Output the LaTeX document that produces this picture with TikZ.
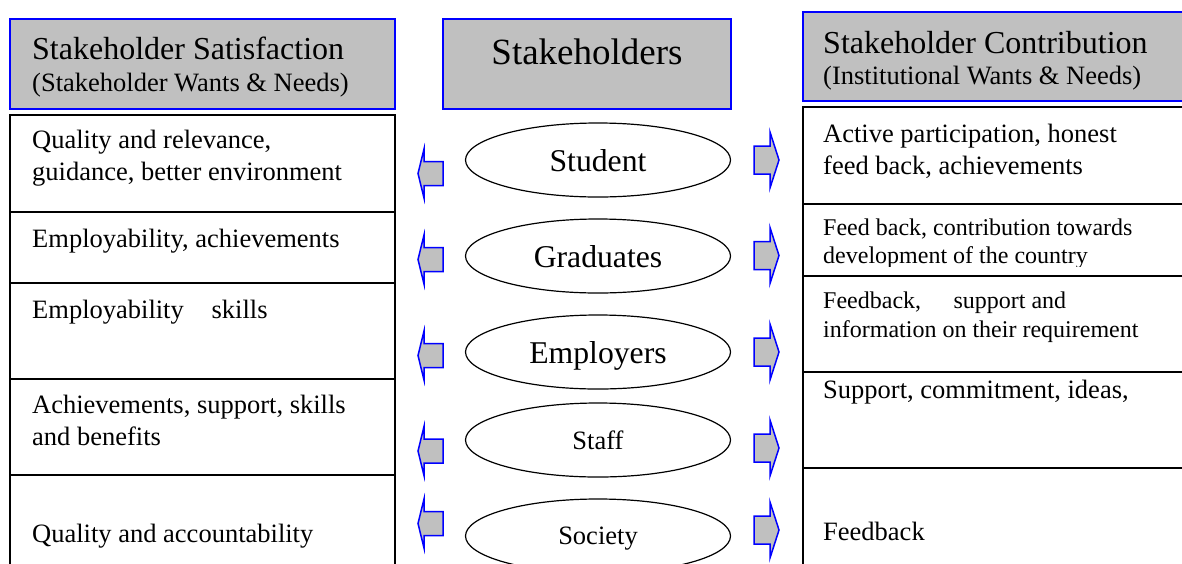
\documentclass[tikz,border=0pt]{standalone}
\usepackage{fontspec}
\setmainfont{Liberation Serif}
\usetikzlibrary{shapes.geometric}
\definecolor{hdgray}{HTML}{C0C0C0}
\definecolor{hdblue}{HTML}{0000FF}
\newcommand\LArr[1]{\draw[arrshape] (418,#1) -- (424,#1-24.5) -- (424,#1-12) -- (443,#1-12) -- (443,#1+12) -- (424,#1+12) -- (424,#1+24.5) -- cycle;}
\newcommand\RArr[1]{\draw[arrshape] (779,#1) -- (770,#1-28) -- (770,#1-14) -- (754,#1-14) -- (754,#1+14) -- (770,#1+14) -- (770,#1+28) -- cycle;}
\begin{document}
\begin{tikzpicture}[x=1pt,y=-1pt,
  hdbox/.style={draw=hdblue, fill=hdgray, line width=1.6pt, inner sep=0pt, outer sep=0pt, anchor=north west},
  cell/.style={draw=black, line width=1.6pt, inner sep=0pt, outer sep=0pt, anchor=north west},
  ell/.style={ellipse, draw=black, line width=1.2pt, minimum width=265pt, minimum height=74pt, inner sep=0pt, text depth=0pt},
  arrshape/.style={draw=hdblue, fill=hdgray, line width=1.5pt, line join=miter},
  txt/.style={inner sep=0pt, align=left, anchor=base west, font=\fontsize{26.5}{32}\selectfont},
  smalltxt/.style={inner sep=0pt, align=left, anchor=base west, font=\fontsize{24}{28.5}\selectfont},
  bigfont/.style={font=\fontsize{31.7}{38}\selectfont},
  midfont/.style={font=\fontsize{26.5}{32}\selectfont}
]
\useasboundingbox (0,0) rectangle (1182,563);
\clip (0,0) rectangle (1182,563);

% header boxes
\node[hdbox, minimum width=385pt, minimum height=90pt] (hl) at (10,19) {};
\node[hdbox, minimum width=288pt, minimum height=90pt] (hm) at (443,19) {};
\node[hdbox, minimum width=400pt, minimum height=89pt] (hr) at (803,12) {};

\node[inner sep=0pt, anchor=base west, font=\fontsize{32}{38}\selectfont] (hlt1) at (32,59) {Stakeholder Satisfaction};
\node[txt] (hlt2) at (32,91) {(Stakeholder Wants \& Needs)};
\node[inner sep=0pt, anchor=base, font=\fontsize{37}{44}\selectfont] (hmt) at (587,64) {Stakeholders};
\node[inner sep=0pt, anchor=base west, font=\fontsize{32}{38}\selectfont] (hrt1) at (823,53) {Stakeholder Contribution};
\node[txt] (hrt2) at (823,84) {(Institutional Wants \& Needs)};

% left cells
\node[cell, minimum width=385pt, minimum height=97pt] (l1) at (10,115) {};
\node[cell, minimum width=385pt, minimum height=71pt] (l2) at (10,212) {};
\node[cell, minimum width=385pt, minimum height=96pt] (l3) at (10,283) {};
\node[cell, minimum width=385pt, minimum height=96pt] (l4) at (10,379) {};
\node[cell, minimum width=385pt, minimum height=110pt] (l5) at (10,475) {};

% multi-line texts: base anchor is the last line's baseline
\node[txt] (l1t) at (32,180) {Quality and relevance,\\guidance, better environment};
\node[txt] (l2t) at (32,247) {Employability, achievements};
\node[txt] (l3t) at (32,318) {Employability\hspace{0.8em} skills};
\node[txt] (l4t) at (32,445) {Achievements, support, skills\\and benefits};
\node[txt] (l5t) at (32,542) {Quality and accountability};

% right cells
\node[cell, minimum width=400pt, minimum height=97pt] (r1) at (803,107) {};
\node[cell, minimum width=400pt, minimum height=72pt] (r2) at (803,204) {};
\node[cell, minimum width=400pt, minimum height=96pt] (r3) at (803,276) {};
\node[cell, minimum width=400pt, minimum height=96pt] (r4) at (803,372) {};
\node[cell, minimum width=400pt, minimum height=110pt] (r5) at (803,468) {};

\node[txt] (r1t) at (823,174) {Active participation, honest\\feed back, achievements};
\begin{scope}
\clip (803,204) rectangle (1182,266);
\node[smalltxt] (r2t) at (823,263.5) {Feed back, contribution towards\\development of the country};
\end{scope}
\node[smalltxt] (r3t) at (823,337) {Feedback,\hspace{1.1em} support and\\information on their requirement};
\node[txt] (r4t) at (823,398) {Support, commitment, ideas,};
\node[txt] (r5t) at (823,540) {Feedback};

% ellipses
\node[ell, bigfont] (student) at (598,160) {Student};
\node[ell, bigfont] (grad) at (598,256) {Graduates};
\node[ell, bigfont] (empl) at (598,352) {Employers};
\node[ell, midfont] (staff) at (598,440) {Staff};
\node[ell, midfont] (society) at (598,536) {Society};

% block arrows
\LArr{173.5}
\LArr{259.5}
\LArr{355.5}
\LArr{451}
\LArr{523.5}
\RArr{160}
\RArr{255.5}
\RArr{352}
\RArr{448}
\RArr{530}
\end{tikzpicture}
\end{document}
